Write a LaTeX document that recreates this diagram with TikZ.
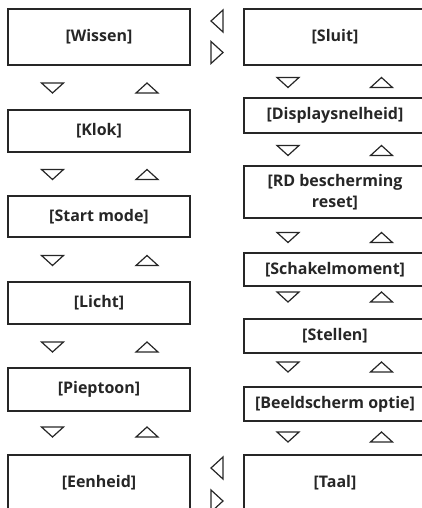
\documentclass[tikz,border=0pt]{standalone}
\usepackage{fontspec}
\setmainfont{Open Sans}
\usetikzlibrary{positioning}

\tikzset{
  menubox/.style={draw=black!85, line width=1.3pt, minimum width=182pt,
                  inner sep=0pt, align=center,
                  font=\fontsize{16}{20.5}\selectfont\bfseries, text=black!85},
  tri/.style={draw=black!85, line width=1.2pt, line join=miter},
  trid/.pic={\draw[tri] (-11,-5) -- (11,-5) -- (0,5) -- cycle;},
  triu/.pic={\draw[tri] (-11,5) -- (11,5) -- (0,-5) -- cycle;},
  tril/.pic={\draw[tri] (6,-11) -- (6,11) -- (-6,0) -- cycle;},
  trir/.pic={\draw[tri] (-6,-11) -- (-6,11) -- (6,0) -- cycle;}
}

\begin{document}
\begin{tikzpicture}[x=1pt, y=-1pt]
\useasboundingbox (0,0) rectangle (422,508);
\clip (0,0) rectangle (422,508);

% left column
\node[menubox, minimum height=56pt] (wissen) at (99,37) {[Wissen]};
\node[menubox, minimum height=42pt] (klok) at (99,131) {[Klok]};
\node[menubox, minimum height=41pt] (startmode) at (99,216.5) {[Start mode]};
\node[menubox, minimum height=42pt] (licht) at (99,303) {[Licht]};
\node[menubox, minimum height=43pt] (pieptoon) at (99,389.5) {[Pieptoon]};
\node[menubox, minimum height=56pt] (eenheid) at (99,483) {[Eenheid]};

% right column
\node[menubox, minimum height=56pt] (sluit) at (335,37) {[Sluit]};
\node[menubox, minimum height=35pt] (display) at (335,115.5) {[Displaysnelheid]};
\node[menubox, minimum height=52pt] (rdreset) at (335,192) {[RD bescherming\\reset]};
\node[menubox, minimum height=33pt] (schakel) at (335,269.5) {[Schakelmoment]};
\node[menubox, minimum height=34pt] (stellen) at (335,336) {[Stellen]};
\node[menubox, minimum height=34pt] (beeld) at (335,404) {[Beeldscherm optie]};
\node[menubox, minimum height=56pt] (taal) at (335,483) {[Taal]};

% down/up keys, left column
\pic (ld1) at (52.5,88) {trid};    \pic (lu1) at (147,88) {triu};
\pic (ld2) at (52.5,174.5) {trid}; \pic (lu2) at (147,174.5) {triu};
\pic (ld3) at (52.5,260.5) {trid}; \pic (lu3) at (147,260.5) {triu};
\pic (ld4) at (52.5,347) {trid};   \pic (lu4) at (147,347) {triu};
\pic (ld5) at (52.5,432) {trid};   \pic (lu5) at (147,432) {triu};

% down/up keys, right column
\pic (rd1) at (288,82.5) {trid};  \pic (ru1) at (381.5,82.5) {triu};
\pic (rd2) at (288,150.5) {trid}; \pic (ru2) at (381.5,150.5) {triu};
\pic (rd3) at (288,237.5) {trid}; \pic (ru3) at (381.5,237.5) {triu};
\pic (rd4) at (288,297) {trid};   \pic (ru4) at (381.5,297) {triu};
\pic (rd5) at (288,367) {trid};   \pic (ru5) at (381.5,367) {triu};
\pic (rd6) at (288,437) {trid};   \pic (ru6) at (381.5,437) {triu};

% left/right keys between the columns
\pic (sl1) at (217,21) {tril};
\pic (sr1) at (217,52.5) {trir};
\pic (sl2) at (217,468) {tril};
\pic (sr2) at (217,501) {trir};
\end{tikzpicture}
\end{document}
